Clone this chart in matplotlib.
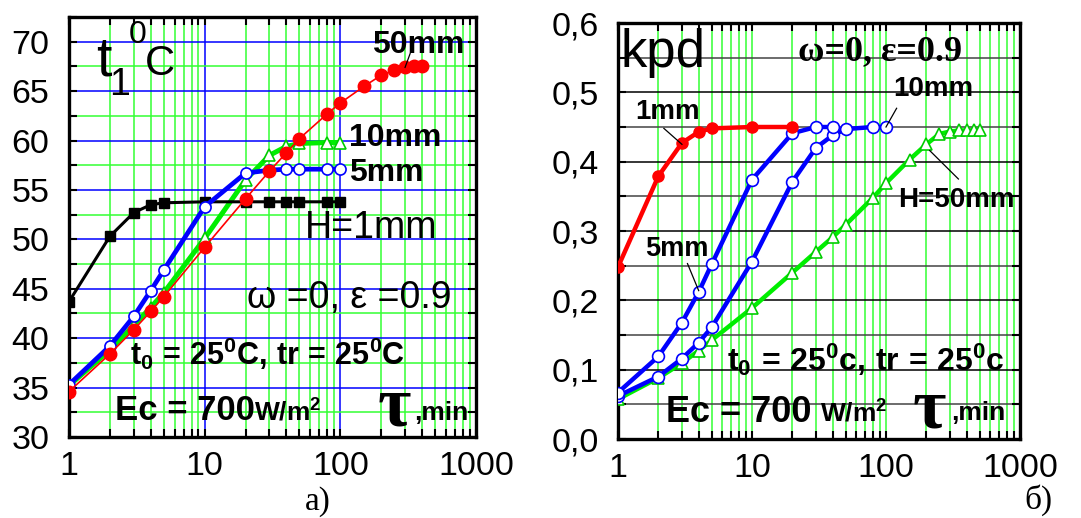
import matplotlib
matplotlib.use("Agg")
import matplotlib.pyplot as plt
from matplotlib.ticker import FixedLocator, FuncFormatter, LogLocator, NullFormatter

plt.rcParams['font.family'] = ['Liberation Sans', 'DejaVu Sans']
plt.rcParams['mathtext.fontset'] = 'custom'
plt.rcParams['mathtext.rm'] = 'Liberation Sans'
plt.rcParams['mathtext.bf'] = 'Liberation Sans:bold'
plt.rcParams['mathtext.it'] = 'Liberation Sans:italic'

# ---- panel a): temperature t1 (deg C) vs time tau (min) ----
tau_a = [1, 2, 3, 4, 5, 10, 20, 30, 40, 50, 80, 100]
t1_1mm = [43.7, 50.3, 52.7, 53.5, 53.7, 53.8, 53.8, 53.8, 53.8, 53.8, 53.8, 53.8]
t1_5mm = [35.3, 39.2, 42.2, 44.8, 46.9, 53.3, 56.7, 57.0, 57.1, 57.1, 57.1, 57.1]
t1_10mm = [35.2, 38.8, 41.3, 43.1, 44.6, 50.1, 56.0, 58.5, 59.4, 59.7, 59.8, 59.8]
tau_a50 = [1, 2, 3, 4, 5, 10, 20, 30, 40, 50, 80, 100, 150, 200, 250, 300, 350, 400]
t1_50mm = [34.6, 38.4, 40.85, 42.7, 44.2, 49.2, 54.1, 56.9, 58.75, 60.2, 62.7, 63.8,
           65.5, 66.6, 67.1, 67.4, 67.55, 67.55]

# ---- panel b): efficiency kpd vs time tau (min) ----
tau_b1 = [1, 2, 3, 4, 5, 10, 20]
kpd_1mm = [0.248, 0.379, 0.427, 0.443, 0.448, 0.45, 0.45]
tau_b5 = [1, 2, 3, 4, 5, 10, 20, 30, 40]
kpd_5mm = [0.067, 0.119, 0.168, 0.212, 0.252, 0.374, 0.441, 0.45, 0.45]
tau_b10 = [1, 2, 3, 4, 5, 10, 20, 30, 40, 50, 80, 100]
kpd_10mm = [0.062, 0.090, 0.116, 0.139, 0.161, 0.256, 0.371, 0.420, 0.438, 0.447, 0.45, 0.45]
tau_b50 = [1, 2, 3, 4, 5, 10, 20, 30, 40, 50, 80, 100, 150, 200, 250, 300, 350, 400, 450, 500]
kpd_50mm = [0.0575, 0.088, 0.1095, 0.1275, 0.1425, 0.189, 0.240, 0.270, 0.291, 0.309,
            0.348, 0.369, 0.403, 0.425, 0.440, 0.4435, 0.445, 0.445, 0.445, 0.445]

x_ticks = [1, 10, 100, 1000]
y_ticks_a = [30, 35, 40, 45, 50, 55, 60, 65, 70]
y_ticks_b = [0.0, 0.1, 0.2, 0.3, 0.4, 0.5, 0.6]

W, H = 1081, 518
fig = plt.figure(figsize=(W / 100, H / 100), dpi=100)

GREEN = '#33ff33'
BLUE = '#0000ff'


def pix_axes(x0, y0, x1, y1):
    return fig.add_axes([x0 / W, 1 - y1 / H, (x1 - x0) / W, (y1 - y0) / H])


def ftext(px, py, s, **kw):
    kw.setdefault('ha', 'left')
    kw.setdefault('va', 'center')
    return fig.text(px / W, 1 - py / H, s, **kw)


def style_axes(ax):
    ax.set_xscale('log')
    ax.set_xlim(1, 1000)
    ax.xaxis.set_major_locator(FixedLocator(x_ticks))
    ax.xaxis.set_minor_locator(LogLocator(base=10, subs=range(2, 10)))
    ax.xaxis.set_major_formatter(FuncFormatter(lambda v, p: f"{int(round(v))}"))
    ax.xaxis.set_minor_formatter(NullFormatter())
    for s in ax.spines.values():
        s.set_linewidth(2.4)
    ax.tick_params(which='both', direction='in', top=True, right=True,
                   length=6, width=1.5, labelsize=24.5)
    ax.tick_params(axis='x', pad=10)
    ax.set_axisbelow(True)


# ================= panel a =================
axa = pix_axes(69, 17, 476, 437)
style_axes(axa)
axa.set_ylim(30, 72.5)
axa.yaxis.set_major_locator(FixedLocator(y_ticks_a))
axa.yaxis.set_minor_locator(FixedLocator([32.5 + 5 * i for i in range(9)]))
axa.tick_params(axis='y', pad=14)
axa.grid(which='minor', color=GREEN, lw=1.1)
axa.grid(which='major', color=BLUE, lw=1.1)

axa.plot(tau_a, t1_1mm, color='black', lw=2.2, marker='s', ms=6.5, mfc='black', mec='black', zorder=4)
axa.plot(tau_a, t1_10mm, color='#00ee00', lw=3.6, marker='^', ms=8, mfc='white', mec='#00cc00', mew=1.2, zorder=3)
axa.plot(tau_a, t1_5mm, color=BLUE, lw=3.4, marker='o', ms=8, mfc='white', mec=BLUE, mew=1.2, zorder=5)
axa.plot(tau_a50, t1_50mm, color='red', lw=1.2, marker='o', ms=9, mfc='red', mec='red', zorder=6)
axa.plot([300, 327], [67.4, 68.8], color='black', lw=0.9, zorder=7)

ftext(96, 75, 't', fontsize=40, va='baseline')
ftext(109, 95, '1', fontsize=27, va='baseline')
ftext(129, 43, '0', fontsize=23, va='baseline')
ftext(145, 75, 'C', fontsize=30, va='baseline')
ftext(372, 45, '50mm', fontsize=23, fontweight='bold')
ftext(349, 138, '10mm', fontsize=23, fontweight='bold')
ftext(349, 173, '5mm', fontsize=23, fontweight='bold')
ftext(305, 228, 'H=1mm', fontsize=27)
ftext(247, 298, 'ω =0, ε =0.9', fontsize=27)
ftext(130, 354, r'$\mathbf{t_0\,=\,25^0C,\,tr\,=\,25^0C}$', fontsize=22)
ftext(115, 411, 'Ec = 700', fontsize=25, fontweight='bold')
ftext(254, 413, r'$\mathbf{W/m^2}$', fontsize=19)
ftext(378, 426, 'τ', fontsize=52, fontweight='bold', family='Liberation Serif', va='baseline')
ftext(414, 413, ',min', fontsize=19, fontweight='bold')
ftext(305, 502, 'a)', fontsize=24, family='Liberation Serif')

# ================= panel b =================
axb = pix_axes(618, 23, 1020, 439)
style_axes(axb)
axb.set_ylim(0, 0.6)
axb.yaxis.set_major_locator(FixedLocator(y_ticks_b))
axb.yaxis.set_minor_locator(FixedLocator([0.05 + 0.1 * i for i in range(6)]))
axb.yaxis.set_major_formatter(FuncFormatter(lambda v, p: f"{v:.1f}".replace('.', ',')))
axb.tick_params(axis='y', pad=14)
axb.grid(axis='x', which='both', color=GREEN, lw=1.1)
axb.grid(axis='y', which='major', color='black', lw=1.1)
axb.grid(axis='y', which='minor', color='#444444', lw=1.1)

axb.plot(tau_b50, kpd_50mm, color='#00ee00', lw=3.2, marker='^', ms=8, mfc='white', mec='#00cc00', mew=1.2, zorder=3)
axb.plot(tau_b10, kpd_10mm, color=BLUE, lw=3.2, marker='o', ms=8.5, mfc='white', mec=BLUE, mew=1.2, zorder=4)
axb.plot(tau_b5, kpd_5mm, color=BLUE, lw=3.2, marker='o', ms=8.5, mfc='white', mec=BLUE, mew=1.2, zorder=4)
axb.plot(tau_b1, kpd_1mm, color='red', lw=3.2, marker='o', ms=8, mfc='red', mec='red', zorder=5)
axb.plot([2.2, 3.0], [0.448, 0.425], color='black', lw=0.9, zorder=6)
axb.plot([3.3, 4.0], [0.253, 0.214], color='black', lw=0.9, zorder=6)
axb.plot([100, 120], [0.45, 0.477], color='black', lw=0.9, zorder=6)
axb.plot([212, 347], [0.416, 0.375], color='black', lw=0.9, zorder=6)

ftext(621, 53, 'kpd', fontsize=38)
ftext(798, 52, 'ω=0, ε=0.9', fontsize=26, fontweight='bold', family='Liberation Serif')
ftext(635, 112, '1mm', fontsize=20, fontweight='bold')
ftext(893, 89, '10mm', fontsize=20, fontweight='bold')
ftext(898, 200, 'H=50mm', fontsize=20, fontweight='bold')
ftext(645, 249, '5mm', fontsize=19.5, fontweight='bold')
ftext(727, 360, r'$\mathbf{t_0\,=\,25^0c,\,tr\,=\,25^0c}$', fontsize=23)
ftext(666, 412, 'Ec = 700', fontsize=26, fontweight='bold')
ftext(820, 414, r'$\mathbf{W/m^2}$', fontsize=19)
ftext(913, 427, 'τ', fontsize=52, fontweight='bold', family='Liberation Serif', va='baseline')
ftext(951, 413, ',min', fontsize=19, fontweight='bold')
ftext(1024, 500, 'б)', fontsize=24, family='Liberation Serif')

fig.savefig('out.png', dpi=100)
